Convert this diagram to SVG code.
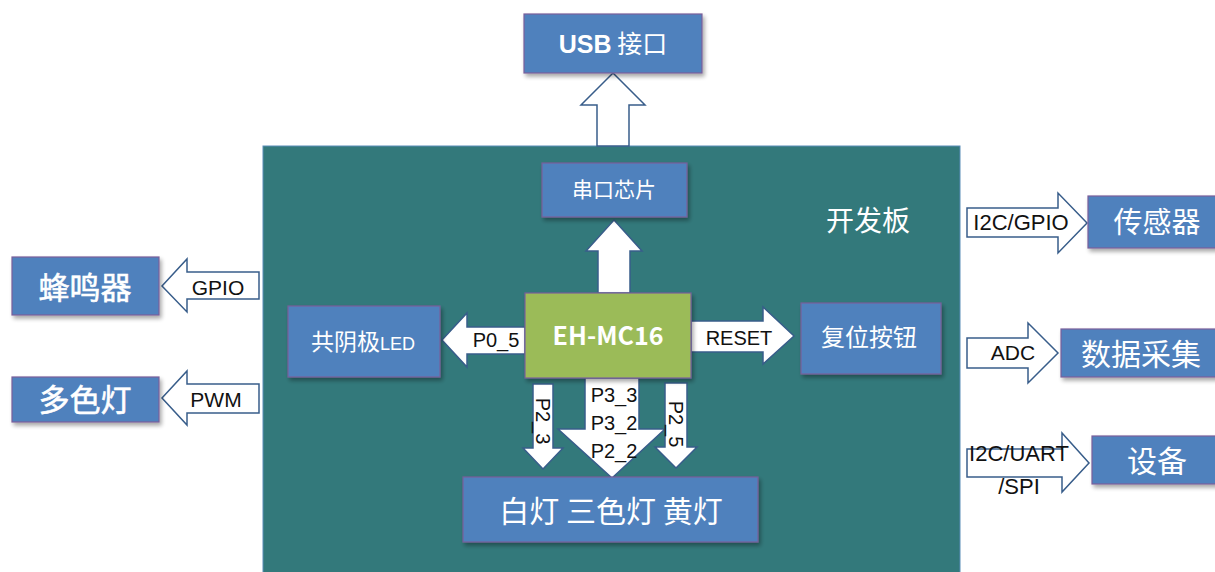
<svg xmlns="http://www.w3.org/2000/svg" width="1215" height="572" viewBox="0 0 1215 572">
<style>
.box{fill:#4F81BD;stroke:#7A5F9A;stroke-width:1.2;filter:url(#sh)}
.chip{fill:#9BBB59;stroke:#7A5F9A;stroke-width:1.2;filter:url(#sh)}
.arr{fill:#FFFFFF;stroke:#385D8A;stroke-width:1.5;stroke-linejoin:miter}
.wt{fill:#FFFFFF;font-family:"Noto Sans CJK SC","Liberation Sans",sans-serif;text-anchor:middle}
.lb{fill:#111111;font-family:"Liberation Sans",Arial,sans-serif;text-anchor:middle}
</style>
<defs>
<filter id="sh" x="-10%" y="-10%" width="130%" height="140%">
<feGaussianBlur in="SourceAlpha" stdDeviation="2"/>
<feOffset dx="2" dy="3" result="b"/>
<feComponentTransfer><feFuncA type="linear" slope="0.35"/></feComponentTransfer>
<feMerge><feMergeNode/><feMergeNode in="SourceGraphic"/></feMerge>
</filter>
</defs>
<rect width="1215" height="572" fill="#FFFFFF"/>

<g id="board">
<rect x="263" y="146" width="697" height="430" fill="#33797B" stroke="#5B8DB8" stroke-width="1"/>
<text class="wt" x="868" y="231" font-size="28" fill="#EAF2F2">开发板</text>
</g>

<g id="connectors">
<polygon class="arr" points="613,73 645,105 629,105 629,146 597,146 597,105 581,105"/>
<polygon class="arr" points="614,220 642,251 630,251 630,293 598,293 598,251 586,251"/>
<polygon class="arr" points="442,340 467,313 467,327 525,327 525,354 467,354 467,367"/>
<text class="lb" x="496" y="347" font-size="20">P0_5</text>
<polygon class="arr" points="691,321 763,321 763,307 794,336 763,364 763,352 691,352"/>
<text class="lb" x="739" y="345" font-size="20">RESET</text>
<polygon class="arr" points="533,384 553,384 553,448 563,448 543,469 523,448 533,448"/>
<text class="lb" x="543" y="421" font-size="20" transform="rotate(90 543 421)" dy="7">P2_3</text>
<polygon class="arr" points="585,378 639,378 639,429 665,429 612,478 558,429 585,429"/>
<text class="lb" x="614" y="402" font-size="20">P3_3</text>
<text class="lb" x="614" y="430" font-size="20">P3_2</text>
<text class="lb" x="614" y="458" font-size="20">P2_2</text>
<polygon class="arr" points="665,383 687,383 687,447 697,447 676,468 655,447 665,447"/>
<text class="lb" x="676" y="424" font-size="20" transform="rotate(90 676 424)" dy="7">P2_5</text>
<polygon class="arr" points="162,286 187,259 187,272 259,272 259,299 187,299 187,312"/>
<text class="lb" x="218" y="295" font-size="21">GPIO</text>
<polygon class="arr" points="162,398 187,371 187,384 259,384 259,413 187,413 187,425"/>
<text class="lb" x="216" y="407" font-size="21">PWM</text>
<polygon class="arr" points="967,208 1058,208 1058,193 1087,223 1058,253 1058,237 967,237"/>
<text class="lb" x="1021" y="230" font-size="22">I2C/GPIO</text>
<polygon class="arr" points="967,338 1028,338 1028,323 1058,353 1028,383 1028,368 967,368"/>
<text class="lb" x="1013" y="360" font-size="21">ADC</text>
<polygon class="arr" points="967,449 1062,449 1062,433 1089,463 1062,492 1062,477 967,477"/>
<text class="lb" x="1019" y="461" font-size="22">I2C/UART</text>
<text class="lb" x="1019" y="494" font-size="22">/SPI</text>
</g>

<g id="usb">
<rect class="box" x="524" y="14" width="178" height="59"/>
<text class="wt" x="613" y="53" font-size="25"><tspan font-weight="bold" font-family="Liberation Sans,sans-serif">USB</tspan> 接口</text>
</g>
<g id="serial">
<rect class="box" x="542" y="163" width="145" height="54"/>
<text class="wt" x="614" y="197" font-size="21">串口芯片</text>
</g>
<g id="mcu">
<rect class="chip" x="525" y="293" width="166" height="85"/>
<text class="wt" x="608" y="345" font-size="25" font-weight="bold" font-family="Liberation Sans,sans-serif">EH-MC16</text>
</g>
<g id="led">
<rect class="box" x="288" y="306" width="152" height="71"/>
<text class="wt" x="363" y="350" font-size="23">共阴极<tspan font-size="18" font-family="Liberation Sans,sans-serif">LED</tspan></text>
</g>
<g id="reset">
<rect class="box" x="801" y="303" width="140" height="71"/>
<text class="wt" x="869" y="346" font-size="24">复位按钮</text>
</g>
<g id="lights">
<rect class="box" x="463" y="477" width="295" height="65"/>
<text class="wt" x="611" y="522" font-size="30">白灯 三色灯 黄灯</text>
</g>
<g id="buzzer">
<rect class="box" x="12" y="257" width="147" height="58"/>
<text class="wt" x="85" y="299" font-size="31" stroke="#FFFFFF" stroke-width="0.6">蜂鸣器</text>
</g>
<g id="rgb">
<rect class="box" x="12" y="377" width="147" height="45"/>
<text class="wt" x="85" y="411" font-size="31" stroke="#FFFFFF" stroke-width="0.6">多色灯</text>
</g>
<g id="sensor">
<rect class="box" x="1088" y="196" width="130" height="52"/>
<text class="wt" x="1157" y="233" font-size="29">传感器</text>
</g>
<g id="adc">
<rect class="box" x="1061" y="329" width="157" height="48"/>
<text class="wt" x="1141" y="365" font-size="30">数据采集</text>
</g>
<g id="device">
<rect class="box" x="1092" y="436" width="126" height="48"/>
<text class="wt" x="1157" y="472" font-size="30">设备</text>
</g>
</svg>
